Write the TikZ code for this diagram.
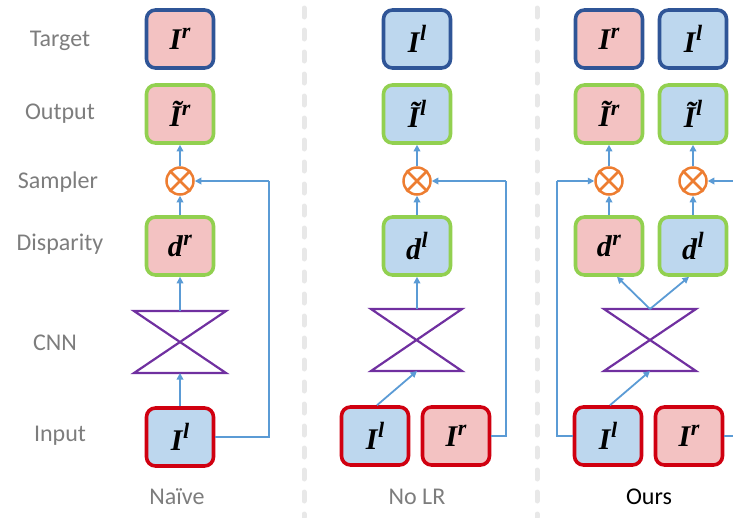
\documentclass[tikz,border=0pt]{standalone}
\usepackage{fontspec}
\setmainfont{Carlito}
\newfontfamily\symfont{Liberation Serif}
\usetikzlibrary{arrows.meta}

\definecolor{pinkfill}{RGB}{243,194,194}
\definecolor{bluefill}{RGB}{189,215,238}
\definecolor{tgtblue}{RGB}{47,85,151}
\definecolor{outgreen}{RGB}{146,208,80}
\definecolor{inred}{RGB}{208,0,16}
\definecolor{flowblue}{RGB}{91,155,213}
\definecolor{smporange}{RGB}{237,125,49}
\definecolor{cnnpurple}{RGB}{112,48,160}
\definecolor{labelgrey}{RGB}{125,125,125}
\definecolor{divgrey}{RGB}{232,232,232}

% image symbol with a raised letter, e.g. I^r
\newcommand\imgsym[2]{#1\kern0.5pt\raisebox{0.38em}{\fontsize{22}{22}\selectfont #2}}

\begin{document}
\begin{tikzpicture}[x=1pt,y=-1pt,
  imgbox/.style={rounded corners=9pt, minimum width=67pt, minimum height=58pt,
    line width=3.6pt, inner sep=0pt,
    font=\symfont\bfseries\itshape\fontsize{30}{30}\selectfont},
  pinkbox/.style={imgbox, fill=pinkfill},
  bluebox/.style={imgbox, fill=bluefill},
  tgt/.style={draw=tgtblue},
  outb/.style={draw=outgreen},
  inb/.style={draw=inred},
  sampler/.style={circle, draw=smporange, line width=2.5pt, minimum size=27pt, inner sep=0pt},
  flow/.style={draw=flowblue, line width=1.8pt, -{Triangle[length=6.5pt,width=6.5pt]}},
  wire/.style={draw=flowblue, line width=1.8pt},
  cnn/.style={draw=cnnpurple, line width=2.2pt, line join=miter},
  rowlabel/.style={text=labelgrey, font=\fontsize{24}{24}\selectfont},
  colname/.style={font=\fontsize{24}{24}\selectfont},
  divider/.style={draw=divgrey, line width=5pt, line cap=round, dash pattern=on 9pt off 13pt}
]
\useasboundingbox (0,0) rectangle (733,517);
\clip (0,0) rectangle (733,517);

% column dividers
\draw[divider] (304,8) -- (304,517);
\draw[divider] (537,8) -- (537,517);

% row labels
\node[rowlabel] (lt) at (60,41) {Target};
\node[rowlabel] (lo) at (60,114) {Output};
\node[rowlabel] (ls) at (58,182) {Sampler};
\node[rowlabel] (ld) at (60,244) {Disparity};
\node[rowlabel] (lc) at (55,343) {CNN};
\node[rowlabel] (li) at (60,436) {Input};

% ---------------- Naive ----------------
\node[pinkbox,tgt] (nT) at (180,39) {\imgsym{I}{r}};
\node[pinkbox,outb] (nO) at (180,114) {\imgsym{\~{I}}{r}};
\node[sampler] (nS) at (180,181) {};
\node[pinkbox,outb] (nD) at (180,246) {\imgsym{d}{r}};
\node[bluebox,inb] (nI) at (180,437) {\imgsym{I}{l}};
\coordinate (nCt) at (180,311);
\coordinate (nCb) at (180,373);
\draw[cnn] (134,311) -- (226,311) -- (134,373) -- (226,373) -- cycle;
\coordinate (nR1) at (269,437);
\coordinate (nR2) at (269,181);
\node[colname,text=labelgrey] (nL) at (177,497) {Naïve};

% ---------------- No LR ----------------
\node[bluebox,tgt] (lT) at (417,39) {\imgsym{I}{l}};
\node[bluebox,outb] (lO) at (417,114) {\imgsym{\~{I}}{l}};
\node[sampler] (lS) at (417,181) {};
\node[bluebox,outb] (lD) at (417,246) {\imgsym{d}{l}};
\node[bluebox,inb] (lI1) at (375,436) {\imgsym{I}{l}};
\node[pinkbox,inb] (lI2) at (456,436) {\imgsym{I}{r}};
\coordinate (lCt) at (417,309);
\coordinate (lCb) at (417,371);
\draw[cnn] (371,309) -- (462,309) -- (371,371) -- (462,371) -- cycle;
\coordinate (lR1) at (506,436);
\coordinate (lR2) at (506,181);
\node[colname,text=labelgrey] (lL) at (417,497) {No LR};

% ---------------- Ours ----------------
\node[pinkbox,tgt] (oT1) at (609,39) {\imgsym{I}{r}};
\node[bluebox,tgt] (oT2) at (693,39) {\imgsym{I}{l}};
\node[pinkbox,outb] (oO1) at (609,114) {\imgsym{\~{I}}{r}};
\node[bluebox,outb] (oO2) at (693,114) {\imgsym{\~{I}}{l}};
\node[sampler] (oS1) at (609,181) {};
\node[sampler] (oS2) at (693,181) {};
\node[pinkbox,outb] (oD1) at (609,246) {\imgsym{d}{r}};
\node[bluebox,outb] (oD2) at (693,246) {\imgsym{d}{l}};
\node[bluebox,inb] (oI1) at (608,436) {\imgsym{I}{l}};
\node[pinkbox,inb] (oI2) at (689,436) {\imgsym{I}{r}};
\coordinate (oCt) at (650,309);
\coordinate (oCb) at (650,371);
\draw[cnn] (604,309) -- (696,309) -- (604,371) -- (696,371) -- cycle;
\coordinate (oL1) at (557,436);
\coordinate (oL2) at (557,181);
\coordinate (oR1) at (750,436);
\coordinate (oR2) at (750,181);
\node[colname] (oL) at (649,497) {Ours};

% sampler crosses
\foreach \s in {nS,lS,oS1,oS2}{
  \draw[smporange, line width=2.5pt] (\s.north west) -- (\s.south east)
                                      (\s.north east) -- (\s.south west);
}

% ---------------- connectors ----------------
% Naive
\draw[flow] (nI.north) -- (nCb);
\draw[flow] (nCt) -- (nD.south);
\draw[flow] (nD.north) -- (nS.south);
\draw[flow] (nS.north) -- (nO.south);
\draw[wire] (nI.east) -- (nR1) -- (nR2);
\draw[flow] (nR2) -- (nS.east);

% No LR
\draw[flow] (lI1.north) ++(2,0) -- (lCb);
\draw[flow] (lCt) -- (lD.south);
\draw[flow] (lD.north) -- (lS.south);
\draw[flow] (lS.north) -- (lO.south);
\draw[wire] (lI2.east) -- (lR1) -- (lR2);
\draw[flow] (lR2) -- (lS.east);

% Ours
\draw[flow] (oI1.north) ++(2,0) -- (oCb);
\draw[flow] (oCt) -- ([xshift=8pt]oD1.south);
\draw[flow] (oCt) -- ([xshift=-4pt]oD2.south);
\draw[flow] (oD1.north) -- (oS1.south);
\draw[flow] (oD2.north) -- (oS2.south);
\draw[flow] (oS1.north) -- (oO1.south);
\draw[flow] (oS2.north) -- (oO2.south);
\draw[wire] (oI1.west) -- (oL1) -- (oL2);
\draw[flow] (oL2) -- (oS1.west);
\draw[wire] (oI2.east) -- (oR1) -- (oR2);
\draw[flow] (oR2) -- (oS2.east);
\end{tikzpicture}
\end{document}
